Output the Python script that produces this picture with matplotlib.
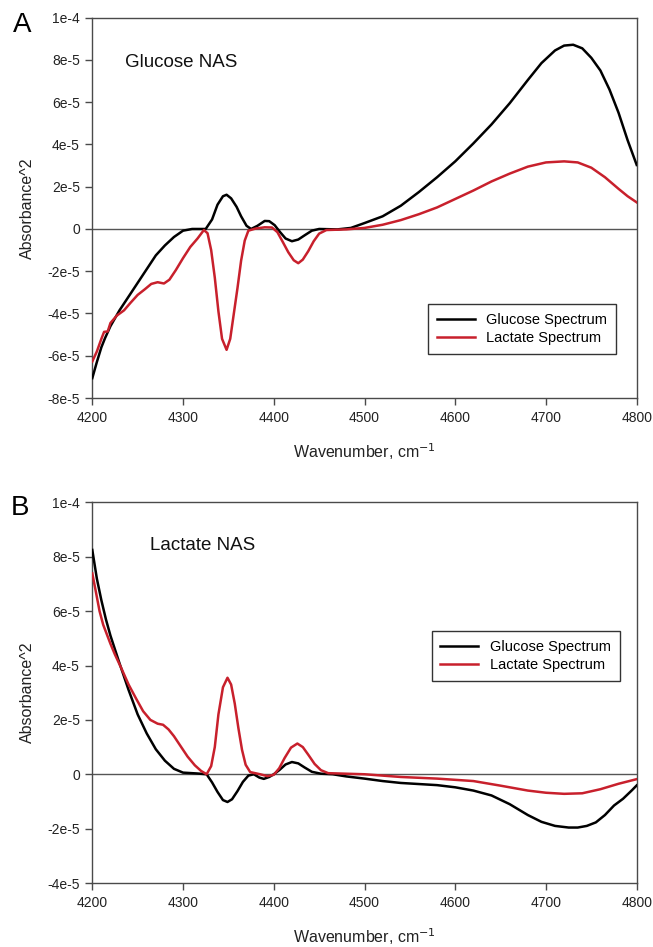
import matplotlib
matplotlib.use("Agg")
import matplotlib.pyplot as plt

plt.rcParams['font.family'] = ['Liberation Sans', 'DejaVu Sans']

# ---------------- data (y in units of 1e-5) ----------------
# Panel A: Glucose NAS
a_glu_x = [4200, 4205, 4210, 4214, 4220, 4230, 4240, 4250, 4260, 4270, 4280, 4290, 4300,
           4310, 4325, 4332, 4338, 4344, 4348, 4353, 4359, 4364, 4370, 4375, 4382, 4390,
           4395, 4401, 4407, 4413, 4420, 4427, 4434, 4442, 4450, 4470, 4485, 4500, 4520,
           4540, 4560, 4580, 4600, 4620, 4640, 4660, 4680, 4695, 4710, 4720, 4730, 4740,
           4750, 4760, 4770, 4780, 4790, 4800]
a_glu_y = [-7.06, -6.3, -5.6, -5.17, -4.6, -3.85, -3.2, -2.55, -1.9, -1.25, -0.78, -0.38, -0.08,
           0.0, 0.0, 0.45, 1.15, 1.55, 1.62, 1.45, 1.05, 0.6, 0.15, 0.0, 0.15, 0.38,
           0.37, 0.18, -0.15, -0.45, -0.58, -0.5, -0.3, -0.08, 0.0, -0.02, 0.05, 0.28, 0.6,
           1.1, 1.75, 2.45, 3.2, 4.05, 4.95, 5.95, 7.05, 7.85, 8.45, 8.68, 8.72, 8.55,
           8.1, 7.5, 6.6, 5.5, 4.2, 3.03]

a_lac_x = [4200, 4205, 4210, 4213, 4217, 4220, 4227, 4235, 4242, 4250, 4258, 4265, 4272,
           4279, 4285, 4292, 4300, 4308, 4316, 4323, 4327, 4331, 4335, 4339, 4343, 4348,
           4352, 4356, 4360, 4364, 4368, 4372, 4380, 4390, 4398, 4404, 4410, 4416, 4422,
           4427, 4432, 4438, 4444, 4450, 4458, 4480, 4500, 4520, 4540, 4560, 4580, 4600,
           4620, 4640, 4660, 4680, 4700, 4720, 4735, 4750, 4765, 4780, 4790, 4800]
a_lac_y = [-6.27, -5.8, -5.2, -4.87, -4.85, -4.45, -4.1, -3.85, -3.5, -3.12, -2.85, -2.6, -2.52,
           -2.58, -2.4, -1.95, -1.38, -0.85, -0.45, -0.05, -0.2, -1.0, -2.3, -3.9, -5.2, -5.72,
           -5.2, -4.0, -2.8, -1.5, -0.55, -0.08, 0.02, 0.08, 0.07, -0.15, -0.62, -1.1, -1.48,
           -1.62, -1.45, -1.05, -0.58, -0.22, -0.05, -0.02, 0.05, 0.2, 0.42, 0.7, 1.02, 1.42,
           1.82, 2.25, 2.62, 2.95, 3.15, 3.2, 3.15, 2.9, 2.45, 1.9, 1.55, 1.26]

# Panel B: Lactate NAS
b_glu_x = [4200, 4205, 4210, 4215, 4220, 4230, 4240, 4250, 4260, 4270, 4280, 4290, 4300,
           4315, 4326, 4332, 4338, 4344, 4349, 4354, 4360, 4366, 4372, 4378, 4384, 4389,
           4395, 4400, 4406, 4413, 4420, 4427, 4434, 4442, 4452, 4465, 4480, 4500, 4520,
           4540, 4560, 4580, 4600, 4620, 4640, 4660, 4680, 4695, 4710, 4725, 4735, 4745,
           4755, 4765, 4775, 4785, 4795, 4800]
b_glu_y = [8.25, 7.2, 6.4, 5.7, 5.1, 4.08, 3.1, 2.2, 1.5, 0.92, 0.5, 0.2, 0.06,
           0.03, 0.0, -0.3, -0.65, -0.95, -1.02, -0.92, -0.62, -0.28, -0.05, 0.0, -0.12, -0.17,
           -0.1, 0.0, 0.15, 0.36, 0.45, 0.4, 0.25, 0.09, 0.02, 0.0, -0.08, -0.16, -0.25,
           -0.32, -0.36, -0.4, -0.48, -0.6, -0.78, -1.1, -1.5, -1.75, -1.9, -1.96, -1.96, -1.9,
           -1.77, -1.5, -1.15, -0.9, -0.58, -0.41]

b_lac_x = [4200, 4204, 4208, 4212, 4216, 4220, 4225, 4232, 4240, 4248, 4256, 4264, 4272,
           4278, 4284, 4290, 4297, 4305, 4313, 4320, 4326, 4331, 4335, 4339, 4344, 4349,
           4353, 4357, 4361, 4365, 4369, 4374, 4385, 4393, 4400, 4406, 4412, 4419, 4426,
           4432, 4438, 4445, 4452, 4460, 4480, 4500, 4540, 4580, 4620, 4650, 4680, 4700,
           4720, 4740, 4760, 4780, 4800]
b_lac_y = [7.39, 6.7, 6.0, 5.5, 5.15, 4.8, 4.4, 3.9, 3.3, 2.8, 2.32, 2.0, 1.86,
           1.82, 1.65, 1.4, 1.05, 0.65, 0.33, 0.12, 0.0, 0.3, 1.0, 2.2, 3.2, 3.55,
           3.3, 2.6, 1.7, 0.9, 0.35, 0.08, 0.0, -0.07, -0.02, 0.22, 0.6, 0.98, 1.13,
           1.0, 0.72, 0.38, 0.15, 0.04, 0.02, 0.0, -0.1, -0.16, -0.25, -0.42, -0.6, -0.68,
           -0.72, -0.7, -0.55, -0.35, -0.18]

x_ticks = [4200, 4300, 4400, 4500, 4600, 4700, 4800]
a_yticks = [10, 8, 6, 4, 2, 0, -2, -4, -6, -8]
a_yticklabels = ['1e-4', '8e-5', '6e-5', '4e-5', '2e-5', '0', '-2e-5', '-4e-5', '-6e-5', '-8e-5']
b_yticks = [10, 8, 6, 4, 2, 0, -2, -4]
b_yticklabels = ['1e-4', '8e-5', '6e-5', '4e-5', '2e-5', '0', '-2e-5', '-4e-5']

series_names = ['Glucose Spectrum', 'Lactate Spectrum']
panel_titles = ['Glucose NAS', 'Lactate NAS']
panel_letters = ['A', 'B']

# ---------------- styling ----------------
W, H = 653, 947
fig = plt.figure(figsize=(W / 100, H / 100), dpi=100)
BLACK = '#000000'
RED = '#c8202c'
SPINE = '#4a4a4a'
SCALE = 1e-5

left = 92.3 / W
width = 544.4 / W
axA = fig.add_axes([left, 1 - 398.0 / H, width, 380.3 / H])
axB = fig.add_axes([left, 1 - 883.0 / H, width, 380.6 / H])


def style(ax, yticks, ylabels, ylim):
    ax.set_xlim(4200, 4800)
    ax.set_ylim(ylim[0] * SCALE, ylim[1] * SCALE)
    ax.set_xticks(x_ticks)
    ax.set_xticklabels([str(t) for t in x_ticks])
    ax.set_yticks([v * SCALE for v in yticks])
    ax.set_yticklabels(ylabels)
    for s in ax.spines.values():
        s.set_color(SPINE)
        s.set_linewidth(1.0)
    ax.tick_params(axis='both', direction='out', length=5, width=1.0, color=SPINE,
                   labelsize=10, labelcolor='#222222', pad=4)
    ax.tick_params(top=False, right=False)
    ax.axhline(0, color='#555555', lw=1.0, zorder=1)
    ax.set_xlabel('Wavenumber, cm$^{-1}$', fontsize=11.5, labelpad=12, color='#222222')
    ax.set_ylabel('Absorbance^2', fontsize=11.5, labelpad=9, color='#222222')


def draw(ax, xs, ys, color, label):
    ax.plot(xs, [v * SCALE for v in ys], color=color, lw=1.8, label=label, zorder=3,
            solid_joinstyle='round')


# Panel A
draw(axA, a_glu_x, a_glu_y, BLACK, series_names[0])
draw(axA, a_lac_x, a_lac_y, RED, series_names[1])
style(axA, a_yticks, a_yticklabels, (-8, 10))
axA.text(4236, 7.9 * SCALE, panel_titles[0], fontsize=13.5, va='center', ha='left', color='#111111')
legA = axA.legend(loc='upper right', bbox_to_anchor=(0.962, 0.247), borderaxespad=0,
                  fontsize=10.5, frameon=True, fancybox=False, framealpha=1,
                  edgecolor='#333333', handlelength=2.6, borderpad=0.6, labelspacing=0.3,
                  handletextpad=0.8)
legA.get_frame().set_linewidth(1.0)

# Panel B
draw(axB, b_glu_x, b_glu_y, BLACK, series_names[0])
draw(axB, b_lac_x, b_lac_y, RED, series_names[1])
style(axB, b_yticks, b_yticklabels, (-4, 10))
axB.text(4264, 8.43 * SCALE, panel_titles[1], fontsize=13.5, va='center', ha='left', color='#111111')
legB = axB.legend(loc='upper right', bbox_to_anchor=(0.969, 0.662), borderaxespad=0,
                  fontsize=10.5, frameon=True, fancybox=False, framealpha=1,
                  edgecolor='#333333', handlelength=2.6, borderpad=0.6, labelspacing=0.3,
                  handletextpad=0.8)
legB.get_frame().set_linewidth(1.0)

# Panel letters
fig.text(22 / W, 1 - 25 / H, panel_letters[0], fontsize=20, ha='center', va='center')
fig.text(20 / W, 1 - 508 / H, panel_letters[1], fontsize=20, ha='center', va='center')

fig.savefig('out.png', dpi=100)
